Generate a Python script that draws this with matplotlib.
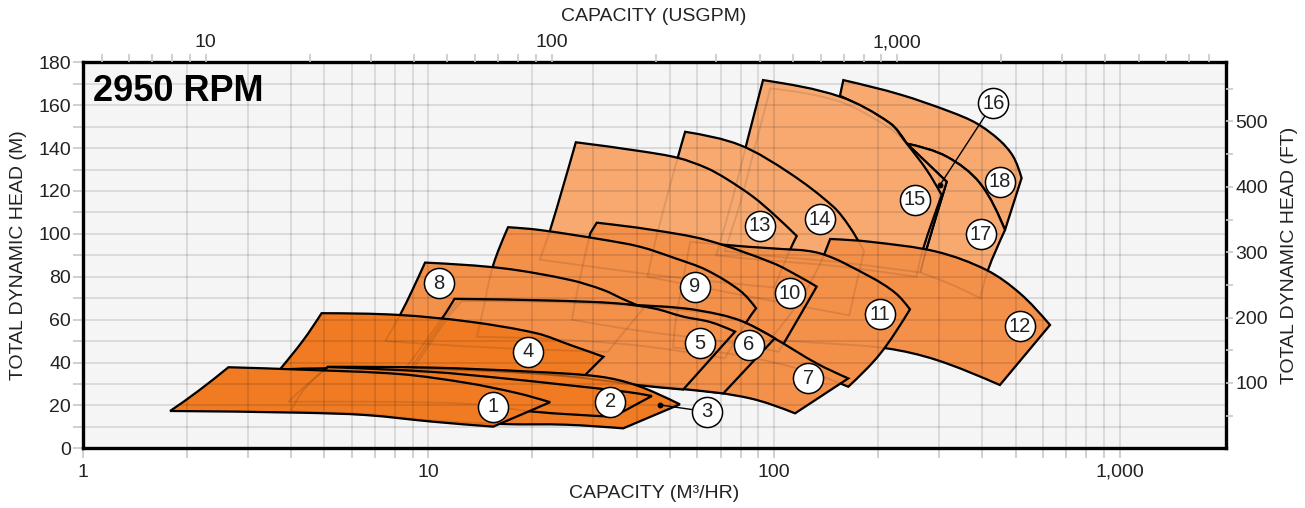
import matplotlib
matplotlib.use("Agg")
import matplotlib.pyplot as plt
from matplotlib.patches import PathPatch
from matplotlib.path import Path
from matplotlib.ticker import FixedLocator, FixedFormatter, NullFormatter
import numpy as np

plt.rcParams['font.family'] = ['Liberation Sans', 'DejaVu Sans']

# ---------------- data: region outlines (capacity m3/hr, head m) ----------------
# each outline runs: bottom-left -> left edge -> top curve -> tip -> right edge -> bottom curve
# rN_c lists the indices of the sharp corners of the outline
r1_q = [1.79, 2.15, 2.64, 4.25, 8.28, 12.9, 18.0, 22.5, 15.4, 10.3, 6.6, 4.25]
r1_h = [17.4, 26.5, 37.8, 36.7, 34.6, 30.5, 25.8, 21.5, 10.1, 12.4, 15.5, 16.6]
r1_c = [0, 2, 7, 8]

r2_q = [3.93, 4.44, 5.12, 10.3, 16.1, 25.1, 37.5, 44.3, 34.3, 20.1, 13.8, 8.0]
r2_h = [21.7, 29.5, 37.9, 35.6, 32.8, 29.5, 26.3, 24.4, 14.7, 17.1, 20.5, 21.6]
r2_c = [0, 2, 7, 8]

r3_q = [4.0, 4.4, 5.12, 10.3, 20.0, 31.4, 40.1, 53.4, 36.6, 25.0, 16.5, 10.3, 6.6, 4.25]
r3_h = [17.5, 28.0, 38.0, 37.6, 35.7, 33.4, 29.3, 20.5, 9.3, 11.0, 11.3, 13.0, 16.0, 17.2]
r3_c = [0, 2, 7, 8]

r4_q = [3.72, 4.35, 4.91, 8.18, 13.2, 20.6, 25.7, 32.1, 28.1, 20.0, 13.0, 8.3, 5.1]
r4_h = [36.8, 50.5, 63.0, 62.2, 59.0, 53.6, 48.2, 42.7, 33.4, 35.0, 36.2, 37.0, 37.3]
r4_c = [0, 2, 7, 8]

r5_q = [8.6, 11.04, 11.9, 22.6, 35.0, 45.0, 54.6, 65.3, 77.1, 54.6, 40.1, 25.0, 15.0]
r5_h = [37.4, 61.4, 69.7, 68.9, 67.6, 65.2, 61.4, 58.9, 54.4, 27.4, 29.5, 33.5, 36.0]
r5_c = [0, 2, 8, 9]

r6_q = [8.9, 11.2, 12.2, 22.6, 37.6, 54.6, 70.0, 81.5, 100.5, 71.3, 54.6, 40.1, 25.0, 15.0]
r6_h = [37.5, 61.0, 69.0, 68.5, 67.0, 65.3, 62.3, 59.0, 51.3, 25.6, 27.6, 29.7, 33.6, 36.1]
r6_c = [0, 2, 8, 9]

r7_q = [9.1, 11.4, 12.5, 22.6, 37.6, 55.0, 68.2, 85.0, 100.5, 132.8, 163.9, 115.0, 85.2, 54.6, 40.1, 25.0, 15.0]
r7_h = [37.6, 61.0, 68.7, 68.2, 66.7, 64.3, 62.3, 57.5, 51.2, 39.6, 32.6, 16.3, 23.3, 28.0, 29.9, 33.7, 36.2]
r7_c = [0, 2, 10, 11]

r8_q = [7.5, 8.28, 9.0, 9.78, 16.5, 25.7, 32.1, 37.0, 42.0, 33.0, 15.0]
r8_h = [50.0, 62.2, 74.0, 86.6, 83.9, 78.5, 73.8, 69.2, 65.5, 45.0, 47.0]
r8_c = [0, 3, 8, 9]

r9_q = [13.8, 14.4, 15.35, 17.0, 21.0, 31.4, 40.9, 52.0, 63.8, 79.7, 88.7, 83.3, 72.0, 40.0, 22.0]
r9_h = [52.0, 64.5, 84.7, 103.1, 101.8, 97.5, 94.0, 88.5, 83.1, 73.5, 65.3, 59.0, 42.0, 48.0, 51.0]
r9_c = [0, 3, 10, 12]

r10_q = [26.0, 27.5, 29.4, 30.7, 43.8, 63.8, 99.5, 118.8, 132.8, 108.8, 103.0, 70.0, 40.0]
r10_h = [60.0, 80.0, 100.3, 105.2, 102.0, 97.1, 86.3, 79.9, 75.4, 51.3, 45.0, 50.0, 55.0]
r10_c = [0, 2, 3, 8, 10]

r11_q = [51.0, 52.0, 54.0, 57.2, 83.7, 97.3, 135.8, 189.6, 224.0, 247.2, 202.5, 163.9, 130.0, 100.0, 75.0]
r11_h = [47.0, 60.0, 75.0, 96.3, 94.0, 93.3, 90.9, 80.0, 72.5, 64.8, 44.0, 28.7, 35.0, 40.0, 44.0]
r11_c = [0, 3, 9, 11]

r12_q = [97.0, 120.0, 138.8, 145.3, 189.6, 295.0, 412.0, 514.0, 628.4, 450.0, 295.0, 211.8, 135.8]
r12_h = [50.5, 70.0, 89.3, 97.6, 96.3, 91.7, 83.1, 72.3, 57.5, 29.5, 41.2, 46.6, 49.1]
r12_c = [0, 2, 3, 8, 9]

r13_q = [21.0, 22.5, 26.7, 40.9, 52.8, 63.8, 72.9, 87.1, 99.5, 116.3, 111.2, 100.0, 50.0]
r13_h = [88.0, 101.8, 142.7, 138.6, 135.4, 130.7, 125.6, 117.2, 109.3, 99.0, 92.5, 75.0, 80.0]
r13_c = [0, 2, 9, 11]

r14_q = [43.0, 46.2, 52.8, 55.3, 79.7, 111.2, 148.3, 165.0, 182.0, 165.0, 90.0]
r14_h = [80.0, 101.8, 136.3, 147.6, 141.4, 128.2, 112.7, 103.5, 92.0, 62.0, 70.0]
r14_c = [0, 3, 8, 9]

r15_q = [68.0, 76.1, 83.3, 92.9, 155.1, 216.4, 241.9, 276.3, 305.4, 270.2, 258.0, 150.0, 90.0]
r15_h = [90.0, 117.3, 142.2, 171.7, 164.0, 151.6, 142.1, 129.8, 118.1, 93.3, 80.0, 85.0, 88.0]
r15_c = [0, 3, 8, 10]

r16_q = [72.0, 80.0, 87.1, 97.5, 155.1, 216.4, 241.9, 315.8, 276.4, 265.0, 150.0, 92.0]
r16_h = [92.0, 115.0, 137.6, 167.9, 161.6, 149.2, 142.1, 124.3, 93.3, 82.0, 87.0, 90.0]
r16_c = [0, 3, 7, 9]

r17_q = [265.0, 276.4, 315.8, 241.9, 315.8, 394.0, 465.6, 415.8, 395.0, 330.0]
r17_h = [82.0, 93.3, 124.3, 142.1, 136.0, 123.6, 101.8, 83.2, 70.0, 76.0]
r17_c = [0, 2, 3, 6, 8]

r18_q = [155.1, 158.6, 231.3, 322.7, 385.6, 450.0, 492.0, 520.0, 465.6, 394.0, 315.8, 241.9, 216.4]
r18_h = [164.4, 171.7, 165.0, 157.0, 151.5, 143.5, 136.0, 126.0, 101.8, 123.6, 136.0, 142.1, 151.6]
r18_c = [0, 1, 7, 8, 11]

# ---------------- data: region labels ----------------
label_num = [1, 2, 3, 4, 5, 6, 7, 8, 9, 10, 11, 12, 13, 14, 15, 16, 17, 18]
label_q = [15.4, 33.6, 63.8, 19.45, 61.1, 84.6, 125.6, 10.75, 59.0, 111.2, 202.5, 514.0,
           91.0, 135.8, 255.6, 430.5, 396.0, 450.0]
label_h = [19.4, 21.7, 17.1, 45.0, 49.0, 48.2, 32.6, 76.9, 75.4, 72.3, 62.5, 57.0,
           103.7, 106.8, 115.8, 160.9, 99.8, 124.3]
leader_num = [3, 16]
leader_q = [46.8, 302.0]
leader_h = [20.2, 122.8]

# ---------------- axes ticks ----------------
x_major = [1, 10, 100, 1000]
x_major_labels = ['1', '10', '100', '1,000']
gpm_major = [10, 100, 1000]
gpm_major_labels = ['10', '100', '1,000']
y_major = [0, 20, 40, 60, 80, 100, 120, 140, 160, 180]
ft_major = [100, 200, 300, 400, 500]

M3_TO_GPM = 4.40287
M_TO_FT = 3.28084
X_MIN, X_MAX = 1.0, 2025.0
Y_MIN, Y_MAX = 0.0, 180.0

COL_DARK = '#F07B23'
COL_MED = '#F3904A'
COL_LIGHT = '#F7A970'

regions = [
    (r1_q, r1_h, r1_c, COL_DARK), (r2_q, r2_h, r2_c, COL_DARK), (r3_q, r3_h, r3_c, COL_DARK),
    (r4_q, r4_h, r4_c, COL_DARK), (r5_q, r5_h, r5_c, COL_MED), (r6_q, r6_h, r6_c, COL_MED),
    (r7_q, r7_h, r7_c, COL_MED), (r8_q, r8_h, r8_c, COL_MED), (r9_q, r9_h, r9_c, COL_MED),
    (r10_q, r10_h, r10_c, COL_MED), (r11_q, r11_h, r11_c, COL_MED), (r12_q, r12_h, r12_c, COL_MED),
    (r13_q, r13_h, r13_c, COL_LIGHT), (r14_q, r14_h, r14_c, COL_LIGHT), (r15_q, r15_h, r15_c, COL_LIGHT),
    (r16_q, r16_h, r16_c, COL_LIGHT), (r17_q, r17_h, r17_c, COL_LIGHT), (r18_q, r18_h, r18_c, COL_LIGHT),
]

# scale factors making (log10 q, h) roughly isotropic on screen, used only for smoothing
SU, SV = 345.7, 2.1444


def _unit(v):
    n = np.hypot(v[0], v[1])
    return v / n if n > 0 else v


def outline_path(q, h, corners):
    """Smooth Bezier outline through the read points, keeping the corners sharp."""
    P = np.column_stack([np.log10(q) * SU, np.asarray(h, float) * SV])
    n = len(P)
    cs = sorted(corners)
    verts = [P[cs[0]]]
    codes = [Path.MOVETO]
    for k, a in enumerate(cs):
        b = cs[k + 1] if k + 1 < len(cs) else cs[0] + n
        idx = [i % n for i in range(a, b + 1)]
        C = P[idx]
        m = len(C)
        if m == 2:
            D = [_unit(C[1] - C[0])] * 2
        else:
            D = [None] * m
            for i in range(1, m - 1):
                D[i] = _unit(C[i + 1] - C[i - 1])
            ch = _unit(C[1] - C[0])
            D[0] = _unit(1.5 * ch - 0.5 * D[1])
            ch = _unit(C[-1] - C[-2])
            D[-1] = _unit(1.5 * ch - 0.5 * D[-2])
        for i in range(m - 1):
            L = np.hypot(*(C[i + 1] - C[i])) / 3.0
            verts += [C[i] + D[i] * L, C[i + 1] - D[i + 1] * L, C[i + 1]]
            codes += [Path.CURVE4] * 3
    verts.append(P[cs[0]])
    codes.append(Path.CLOSEPOLY)
    V = np.array(verts)
    return Path(np.column_stack([10 ** (V[:, 0] / SU), V[:, 1] / SV]), codes)


fig = plt.figure(figsize=(13.05, 5.08), dpi=100)
ax = fig.add_axes([0.06337, 0.11752, 0.87586, 0.75984])
ax.set_facecolor('#F5F5F5')
ax.set_xscale('log')
ax.set_xlim(X_MIN, X_MAX)
ax.set_ylim(Y_MIN, Y_MAX)
ax.set_axisbelow(False)

n_reg = len(regions)
for i, (q, h, c, col) in enumerate(regions):
    path = outline_path(q, h, c)
    ax.add_patch(PathPatch(path, facecolor=col, edgecolor='black', lw=1.6,
                           joinstyle='miter', zorder=1.0 + (n_reg - i) * 0.01))
    ax.add_patch(PathPatch(path, fill=False, edgecolor=(0, 0, 0, 0.10), lw=1.3, zorder=2.0))

# leader lines
for num, dq, dh in zip(leader_num, leader_q, leader_h):
    j = label_num.index(num)
    ax.plot([dq, label_q[j]], [dh, label_h[j]], color='black', lw=1.0, zorder=3)
    ax.plot([dq], [dh], 'o', color='black', ms=3.2, zorder=3.1)

ax.scatter(label_q, label_h, s=470, facecolor='white', edgecolor='black', linewidth=1.1, zorder=4)
for num, q, h in zip(label_num, label_q, label_h):
    ax.text(q, h, str(num), ha='center', va='center', fontsize=14.5, color='#222222', zorder=5)

ax.text(0.0088, 0.9005, '2950 RPM', transform=ax.transAxes, fontsize=26, fontweight='bold',
        ha='left', va='baseline', color='black', zorder=6)

# bottom / left axes
x_minor = [k * 10 ** e for e in range(0, 3) for k in range(2, 10)]
ax.xaxis.set_major_locator(FixedLocator(x_major))
ax.xaxis.set_major_formatter(FixedFormatter(x_major_labels))
ax.xaxis.set_minor_locator(FixedLocator(x_minor))
ax.xaxis.set_minor_formatter(NullFormatter())
ax.yaxis.set_major_locator(FixedLocator(y_major))
ax.yaxis.set_minor_locator(FixedLocator(list(range(10, 180, 20))))
ax.grid(True, which='both', axis='both', color='black', alpha=0.125, lw=1.2)
ax.tick_params(axis='both', which='both', direction='out', color='#c8c8c8', width=1.2,
               labelsize=14, labelcolor='#222222')
ax.tick_params(axis='y', which='both', length=7, pad=1.5)
ax.tick_params(axis='x', which='both', length=7, pad=4)
for s in ax.spines.values():
    s.set_linewidth(2.4)
    s.set_color('black')
    s.set_zorder(7)

# top axis (USGPM)
axt = ax.twiny()
axt.set_xscale('log')
axt.set_xlim(X_MIN * M3_TO_GPM, X_MAX * M3_TO_GPM)
gpm_minor = [k * 10 ** e for e in range(0, 4) for k in range(2, 10)
             if X_MIN * M3_TO_GPM < k * 10 ** e < X_MAX * M3_TO_GPM]
axt.xaxis.set_major_locator(FixedLocator(gpm_major))
axt.xaxis.set_major_formatter(FixedFormatter(gpm_major_labels))
axt.xaxis.set_minor_locator(FixedLocator(gpm_minor))
axt.xaxis.set_minor_formatter(NullFormatter())
axt.tick_params(axis='x', which='both', direction='out', length=6, color='#c8c8c8', width=1.2,
                labelsize=14, labelcolor='#222222', pad=2)
for s in axt.spines.values():
    s.set_visible(False)

# right axis (FT)
axr = ax.twinx()
axr.set_ylim(Y_MIN * M_TO_FT, Y_MAX * M_TO_FT)
axr.yaxis.set_major_locator(FixedLocator(ft_major))
axr.yaxis.set_minor_locator(FixedLocator([50, 150, 250, 350, 450, 550]))
axr.yaxis.set_minor_formatter(NullFormatter())
axr.tick_params(axis='y', which='both', direction='out', length=5, color='#c8c8c8', width=1.2,
                labelsize=14, labelcolor='#222222', pad=2)
for s in axr.spines.values():
    s.set_visible(False)

fig.text(0.5011, 0.9685, 'CAPACITY (USGPM)', ha='center', va='center', fontsize=14, color='#222222')
fig.text(0.5011, 0.0295, 'CAPACITY (M³/HR)', ha='center', va='center', fontsize=14, color='#222222')
fig.text(0.0138, 0.4975, 'TOTAL DYNAMIC HEAD (M)', ha='center', va='center', rotation=90,
         fontsize=14, color='#222222')
fig.text(0.9885, 0.4975, 'TOTAL DYNAMIC HEAD (FT)', ha='center', va='center', rotation=90,
         fontsize=14, color='#222222')

fig.savefig('out.png', dpi=100)
